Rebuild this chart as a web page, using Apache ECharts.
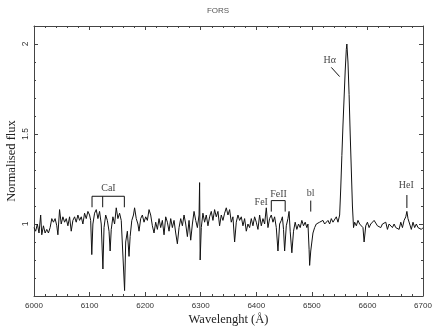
<!DOCTYPE html>
<html>
<head>
<meta charset="utf-8">
<title>FORS</title>
<script src="https://cdn.jsdelivr.net/npm/echarts@6/dist/echarts.min.js"></script>
<style>
  html, body { margin: 0; padding: 0; background: #fff; }
</style>
</head>
<body>
<div id="main" style="width: 436px; height: 327px;"></div>
<script type="text/javascript">
// spectrum (wavelength in Angstrom, normalised flux)
var wave = [
  6000, 6003, 6006, 6009, 6012, 6014, 6017, 6020, 6023, 6026, 6029,
  6032, 6035, 6038, 6041, 6043, 6046, 6049, 6052, 6055, 6058, 6061, 6064, 6067,
  6070, 6073, 6076, 6079, 6082, 6085, 6088, 6091, 6094, 6097, 6100, 6102, 6104,
  6106, 6109, 6112, 6115, 6118, 6121, 6124, 6126, 6129, 6132, 6135, 6137, 6139,
  6142, 6145, 6148, 6151, 6154, 6157, 6160, 6163, 6165, 6168, 6171, 6173, 6176,
  6179, 6181, 6184, 6187, 6189, 6192, 6195, 6198, 6201, 6204, 6207, 6210, 6213,
  6216, 6219, 6222, 6225, 6228, 6231, 6234, 6237, 6240, 6243, 6246, 6249, 6252,
  6255, 6258, 6261, 6264, 6267, 6270, 6273, 6276, 6279, 6282, 6285, 6288, 6291,
  6294, 6297, 6298, 6299, 6301, 6304, 6307, 6310, 6313, 6316, 6319, 6322, 6325,
  6328, 6331, 6334, 6337, 6340, 6343, 6346, 6349, 6352, 6355, 6358, 6361, 6364,
  6367, 6370, 6373, 6376, 6379, 6382, 6385, 6388, 6391, 6394, 6397, 6400, 6403,
  6406, 6409, 6412, 6415, 6418, 6421, 6424, 6427, 6430, 6433, 6436, 6439, 6442,
  6445, 6447, 6449, 6451, 6454, 6457, 6459, 6461, 6464, 6467, 6470, 6473, 6476,
  6479, 6482, 6485, 6488, 6491, 6493, 6495, 6496, 6498, 6500, 6502, 6505, 6508,
  6511, 6514, 6517, 6520, 6523, 6526, 6529, 6532, 6535, 6538, 6541, 6544, 6547,
  6549, 6550, 6552, 6554, 6556, 6558, 6560, 6562, 6563, 6565, 6567, 6569, 6571,
  6573, 6575, 6577, 6580, 6583, 6586, 6589, 6592, 6594, 6597, 6600, 6603, 6606,
  6609, 6612, 6615, 6618, 6621, 6624, 6627, 6630, 6633, 6636, 6639, 6642, 6645,
  6648, 6651, 6654, 6657, 6660, 6663, 6666, 6669, 6671, 6673, 6676, 6679, 6682,
  6685, 6688, 6691, 6694, 6697, 6700
];
var flux = [
  0.98, 0.96, 1.00, 0.95, 1.05, 0.94, 0.99, 0.95, 0.97, 0.95, 0.98,
  1.03, 1.01, 1.03, 0.99, 0.94, 1.08, 1.00, 1.04, 1.01, 1.03, 0.99, 1.04, 0.96,
  1.02, 1.04, 1.01, 1.05, 1.02, 1.04, 1.00, 1.06, 1.03, 1.07, 1.05, 1.02, 0.83,
  1.00, 1.06, 1.08, 1.03, 1.07, 1.00, 0.75, 0.98, 1.05, 1.02, 0.96, 0.85, 0.97,
  1.04, 1.00, 1.09, 1.03, 1.06, 1.02, 1.01, 0.63, 0.90, 0.96, 0.82, 0.93, 1.02,
  1.05, 1.09, 1.03, 1.00, 0.96, 1.03, 1.05, 1.01, 1.04, 1.02, 1.08, 1.05, 0.99,
  0.95, 1.01, 0.97, 1.03, 0.98, 1.02, 0.94, 1.04, 1.01, 0.96, 1.03, 0.98, 1.02,
  0.95, 0.89, 0.98, 1.03, 0.99, 1.05, 1.00, 0.93, 1.02, 0.91, 1.00, 1.07, 1.02,
  0.98, 1.05, 1.23, 0.80, 0.98, 1.06, 1.01, 1.05, 0.99, 1.04, 1.07, 1.02, 1.08,
  1.04, 1.07, 0.99, 1.05, 1.02, 1.06, 1.09, 1.05, 1.08, 1.01, 1.04, 0.90, 1.01,
  1.05, 1.02, 1.04, 0.99, 1.03, 0.96, 1.00, 0.98, 1.03, 0.99, 1.04, 1.01, 0.97,
  1.05, 0.99, 1.03, 1.00, 1.09, 0.98, 1.03, 1.05, 1.01, 1.04, 0.98, 0.85, 1.00,
  1.02, 1.04, 0.97, 0.85, 0.99, 1.03, 1.07, 0.96, 0.84, 0.96, 1.01, 0.97, 1.00,
  0.98, 1.02, 0.99, 1.01, 0.98, 1.00, 0.86, 0.77, 0.85, 0.90, 0.95, 0.98, 1.00,
  0.99, 1.01, 1.00, 1.02, 1.00, 1.01, 1.02, 1.00, 1.03, 1.01, 1.02, 1.04, 1.01,
  1.02, 1.05, 1.20, 1.38, 1.55, 1.70, 1.85, 1.97, 2.00, 1.90, 1.72, 1.50, 1.30,
  1.10, 0.98, 1.01, 0.99, 1.02, 1.00, 1.01, 0.98, 0.90, 0.99, 1.01, 0.98, 1.00,
  0.99, 1.02, 1.01, 0.99, 1.00, 0.98, 1.00, 0.99, 1.01, 0.97, 1.00, 0.99, 0.98,
  1.00, 0.98, 0.99, 0.97, 1.01, 0.98, 1.02, 1.04, 1.07, 1.03, 1.00, 0.97, 1.01,
  0.98, 1.00, 0.98, 0.99, 0.97, 0.98
];

// tick positions
var xTicks = [6000, 6100, 6200, 6300, 6400, 6500, 6600, 6700];
var yMajor = [1, 1.5, 2];
var yMinor = [0.6, 0.7, 0.8, 0.9, 1.1, 1.2, 1.3, 1.4, 1.6, 1.7, 1.8, 1.9, 2.0, 2.1];

// line identifications: text and where it sits (data units)
var lineNames = ['CaI', 'FeI', 'FeII', 'bl', 'H\u03b1', 'HeI'];
var nameX = [6134, 6409, 6440, 6498, 6532, 6670];
var nameY = [1.198, 1.119, 1.163, 1.170, 1.907, 1.213];

// marker strokes (brackets and pointers) in data units
var markers = [
  [[6104.4, 1.093], [6104.4, 1.154], [6162.6, 1.154], [6162.6, 1.093]],
  [[6123.6, 1.154], [6123.6, 1.093]],
  [[6427, 1.069], [6427, 1.13], [6452, 1.13], [6452, 1.069]],
  [[6498, 1.13], [6498, 1.069]],
  [[6535, 1.87], [6550, 1.819]],
  [[6671, 1.161], [6671, 1.089]]
];

var myChart = echarts.init(document.getElementById('main'));

var spectrum = [];
for (var i = 0; i < wave.length; i++) {
  spectrum.push([wave[i], flux[i]]);
}
var names = [];
for (var j = 0; j < lineNames.length; j++) {
  names.push({ name: lineNames[j], value: [nameX[j], nameY[j]] });
}

var frame = { show: true, onZero: false, lineStyle: { color: '#444', width: 1 } };
var sans = 'Liberation Sans, Arial, sans-serif';
var serif = 'Liberation Serif, Times New Roman, serif';
var plain = function (v) { return String(v); };

var series = [
  {
    type: 'line',
    data: spectrum,
    showSymbol: false,
    silent: true,
    lineStyle: { color: '#111', width: 1 },
    z: 3
  },
  {
    type: 'scatter',
    data: names,
    symbolSize: 0,
    silent: true,
    label: {
      show: true,
      position: 'inside',
      formatter: '{b}',
      fontFamily: serif,
      fontSize: 10,
      color: '#111'
    }
  }
];
markers.forEach(function (m) {
  series.push({
    type: 'line',
    data: m,
    showSymbol: false,
    silent: true,
    lineStyle: { color: '#111', width: 1 }
  });
});

var option = {
  animation: false,
  title: {
    text: 'FORS',
    left: 'center',
    top: 2,
    textStyle: { fontFamily: sans, fontSize: 8, fontWeight: 'normal', color: '#555' }
  },
  grid: { left: 34, right: 13, top: 26, bottom: 31, outerBoundsMode: 'none', containLabel: false },
  xAxis: [
    {
      type: 'value',
      min: 6000, max: 6700, interval: 100,
      position: 'bottom',
      axisLine: frame,
      splitLine: { show: false },
      axisTick: { inside: true, length: 4, lineStyle: { color: '#444' } },
      minorTick: { show: true, splitNumber: 5, length: 2, lineStyle: { color: '#444' } },
      axisLabel: { fontFamily: sans, fontSize: 8, color: '#333', margin: 6, formatter: plain },
      name: 'Wavelenght (\u00c5)',
      nameLocation: 'middle',
      nameGap: 17,
      nameMoveOverlap: false,
      nameTextStyle: { fontFamily: serif, fontSize: 12.5, color: '#222' }
    },
    {
      type: 'value',
      min: 6000, max: 6700, interval: 100,
      position: 'top',
      axisLine: frame,
      splitLine: { show: false },
      axisTick: { inside: true, length: 4, lineStyle: { color: '#444' } },
      minorTick: { show: true, splitNumber: 5, length: 2, lineStyle: { color: '#444' } },
      axisLabel: { show: false }
    }
  ],
  yAxis: [
    {
      type: 'value',
      min: 0.6, max: 2.1,
      position: 'left',
      axisLine: frame,
      splitLine: { show: false },
      axisTick: { inside: true, length: 4, customValues: yMajor, lineStyle: { color: '#444' } },
      axisLabel: {
        customValues: yMajor,
        rotate: 90,
        fontFamily: sans, fontSize: 8.5, color: '#333', margin: 4,
        formatter: plain
      },
      name: 'Normalised flux',
      nameLocation: 'middle',
      nameGap: 16,
      nameMoveOverlap: false,
      nameTextStyle: { fontFamily: serif, fontSize: 12.5, color: '#222' }
    },
    {
      type: 'value',
      min: 0.6, max: 2.1,
      position: 'left',
      axisLine: { show: false },
      splitLine: { show: false },
      axisTick: { inside: true, length: 2, customValues: yMinor, lineStyle: { color: '#444' } },
      axisLabel: { show: false }
    },
    {
      type: 'value',
      min: 0.6, max: 2.1,
      position: 'right',
      axisLine: frame,
      splitLine: { show: false },
      axisTick: { inside: true, length: 4, customValues: yMajor, lineStyle: { color: '#444' } },
      axisLabel: { show: false }
    },
    {
      type: 'value',
      min: 0.6, max: 2.1,
      position: 'right',
      axisLine: { show: false },
      splitLine: { show: false },
      axisTick: { inside: true, length: 2, customValues: yMinor, lineStyle: { color: '#444' } },
      axisLabel: { show: false }
    }
  ],
  series: series
};

myChart.setOption(option);
</script>
</body>
</html>
